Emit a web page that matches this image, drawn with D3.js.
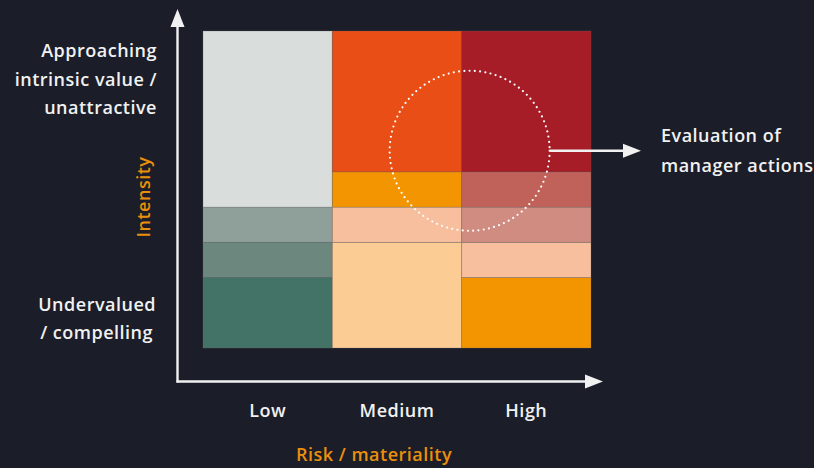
<!DOCTYPE html>
<html>
<head>
<meta charset="utf-8">
<script src="https://cdn.jsdelivr.net/npm/d3@7/dist/d3.min.js"></script>
<style>
  html, body { margin: 0; padding: 0; background: #1b1e28; }
  svg { display: block; }
  text { font-family: "Open Sans", "Noto Sans", sans-serif; font-weight: 600; letter-spacing: 0.5px; }
</style>
</head>
<body>
<svg id="chart" width="814" height="468"></svg>
<script>
// Risk / materiality categories along the horizontal axis
const categories = ["Low", "Medium", "High"];

// Stacked intensity bands per category, bottom to top (intensity units)
const lowBands    = [2, 1, 1, 5];
const mediumBands = [3, 1, 1, 4];
const highBands   = [2, 1, 1, 1, 4];

// Fill for each band, same order as above
const lowColors    = ["#437266", "#6b877e", "#8fa09b", "#d9dddc"];
const mediumColors = ["#fbcc94", "#f7bf9e", "#f39500", "#e84e15"];
const highColors   = ["#f39500", "#f7bf9e", "#d08c80", "#c0625a", "#a61d27"];

// Vertical axis end labels
const topLabel = ["Approaching", "intrinsic value /", "unattractive"];
const bottomLabel = ["Undervalued", "/ compelling"];
const annotationLabel = ["Evaluation of", "manager actions"];

const intensityMax = 9;

const svg = d3.select("#chart");
const bg = "#1b1e28";
const fg = "#f1f1f1";
const accent = "#ea8f0c";
const fontSize = 18;

svg.append("rect").attr("width", 814).attr("height", 468).attr("fill", bg);

const x = d3.scaleBand().domain(categories).range([203, 591]).padding(0);
const y = d3.scaleLinear().domain([0, intensityMax]).range([348, 31]);

// Build the stacked cells from the band arrays
const columns = [
  { cat: "Low", bands: lowBands, colors: lowColors },
  { cat: "Medium", bands: mediumBands, colors: mediumColors },
  { cat: "High", bands: highBands, colors: highColors }
];
const cells = [];
columns.forEach(c => {
  let base = 0;
  c.bands.forEach((h, i) => {
    cells.push({ cat: c.cat, y0: base, y1: base + h, color: c.colors[i] });
    base += h;
  });
});

svg.append("g").selectAll("rect").data(cells).join("rect")
  .attr("x", d => x(d.cat))
  .attr("width", x.bandwidth())
  .attr("y", d => y(d.y1))
  .attr("height", d => y(d.y0) - y(d.y1))
  .attr("fill", d => d.color)
  .attr("stroke", "rgba(110,110,110,0.3)")
  .attr("stroke-width", 0.9);

// Axes with arrowheads
const axisX = 177.5, axisY = 381.5;
const axes = svg.append("g").attr("fill", fg).attr("stroke", fg);
axes.append("line").attr("x1", axisX).attr("x2", axisX).attr("y1", axisY + 1).attr("y2", 26)
  .attr("stroke-width", 2.4);
axes.append("path").attr("stroke", "none")
  .attr("d", `M${axisX},9 L${axisX + 7},27 L${axisX - 7},27 Z`);
axes.append("line").attr("x1", axisX - 1).attr("x2", 586).attr("y1", axisY).attr("y2", axisY)
  .attr("stroke-width", 2.4);
axes.append("path").attr("stroke", "none")
  .attr("d", `M603,${axisY} L585,${axisY - 7} L585,${axisY + 7} Z`);

// Category labels
svg.append("g").selectAll("text").data(categories).join("text")
  .attr("x", d => x(d) + x.bandwidth() / 2)
  .attr("y", 417)
  .attr("text-anchor", "middle")
  .attr("fill", fg)
  .attr("font-size", fontSize)
  .text(d => d);

// Axis titles
svg.append("text")
  .attr("x", 374).attr("y", 461)
  .attr("text-anchor", "middle")
  .attr("fill", accent)
  .attr("font-size", fontSize)
  .text("Risk / materiality");

svg.append("text")
  .attr("transform", "translate(150,197) rotate(-90)")
  .attr("text-anchor", "middle")
  .attr("fill", accent)
  .attr("font-size", fontSize)
  .text("Intensity");

// Vertical axis end labels
svg.append("g").selectAll("text").data(topLabel).join("text")
  .attr("x", 157).attr("y", (d, i) => 57 + i * 28.7)
  .attr("text-anchor", "end")
  .attr("fill", fg)
  .attr("font-size", fontSize)
  .text(d => d);

svg.append("g").selectAll("text").data(bottomLabel).join("text")
  .attr("x", (d, i) => i === 0 ? 156 : 153).attr("y", (d, i) => 311 + i * 28)
  .attr("text-anchor", "end")
  .attr("fill", fg)
  .attr("font-size", fontSize)
  .text(d => d);

// Dotted focus circle around the medium/high, upper-intensity area
const cx = x("High") + 8, cy = y(5.6), r = 80;
svg.append("circle")
  .attr("cx", cx).attr("cy", cy).attr("r", r)
  .attr("fill", "none")
  .attr("stroke", "#ffffff")
  .attr("stroke-width", 2.2)
  .attr("stroke-linecap", "round")
  .attr("stroke-dasharray", "0,5.3");

// Arrow pointing to the annotation
svg.append("line")
  .attr("x1", cx + r).attr("x2", 625).attr("y1", cy).attr("y2", cy)
  .attr("stroke", fg).attr("stroke-width", 2.6);
svg.append("path").attr("fill", fg)
  .attr("d", `M641,${cy} L623,${cy - 7} L623,${cy + 7} Z`);

svg.append("g").selectAll("text").data(annotationLabel).join("text")
  .attr("x", 661).attr("y", (d, i) => 142 + i * 29.5)
  .attr("fill", fg)
  .attr("font-size", fontSize)
  .text(d => d);
</script>
</body>
</html>
